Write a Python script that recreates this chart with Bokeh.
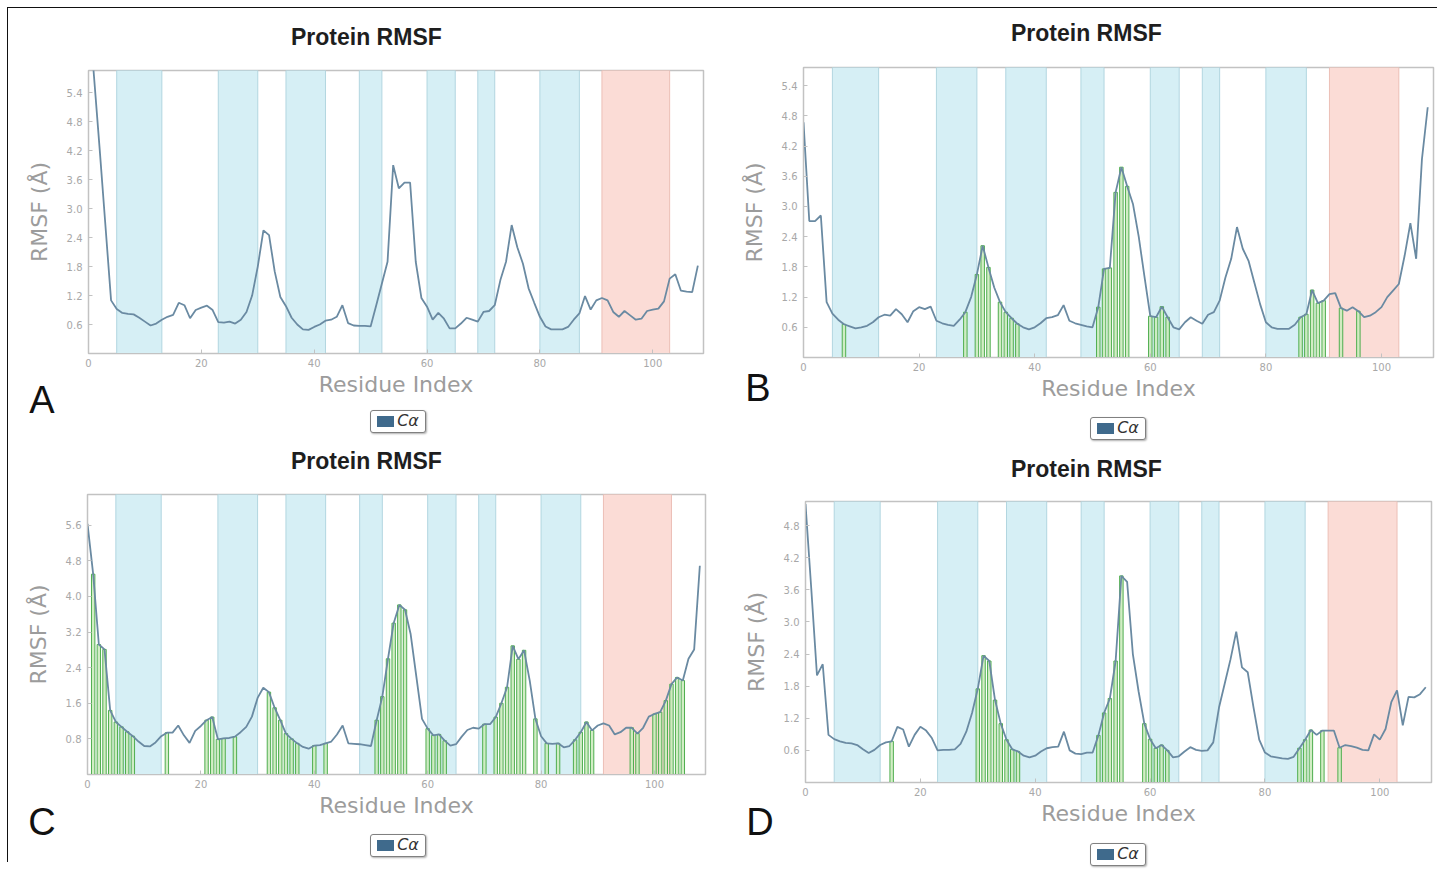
from bokeh.plotting import figure
from bokeh.models import ColumnDataSource, FixedTicker, Range1d, PrintfTickFormatter, Div
from bokeh.layouts import column, row
from bokeh.embed import file_html
from bokeh.resources import INLINE

# ---------------- data ----------------
residues = list(range(109))

rmsf_A = [7.2, 5.7, 4.2, 2.65, 1.1, 0.92, 0.84, 0.82, 0.81, 0.74,
          0.66, 0.58, 0.62, 0.7, 0.76, 0.8, 1.05, 1.0, 0.73, 0.9,
          0.95, 0.99, 0.9, 0.65, 0.64, 0.66, 0.62, 0.7, 0.86, 1.2,
          1.8, 2.55, 2.45, 1.7, 1.17, 0.98, 0.74, 0.6, 0.5, 0.49,
          0.55, 0.6, 0.68, 0.7, 0.76, 1.0, 0.63, 0.58, 0.57, 0.57,
          0.56, 1.0, 1.45, 1.9, 3.9, 3.42, 3.54, 3.54, 1.9, 1.15,
          0.97, 0.7, 0.84, 0.72, 0.52, 0.52, 0.62, 0.74, 0.7, 0.66,
          0.86, 0.88, 1.0, 1.52, 1.9, 2.66, 2.2, 1.86, 1.35, 1.05,
          0.76, 0.56, 0.5, 0.5, 0.5, 0.55, 0.7, 0.83, 1.19, 0.91,
          1.1, 1.15, 1.1, 0.86, 0.76, 0.88, 0.79, 0.7, 0.72, 0.88,
          0.91, 0.93, 1.08, 1.55, 1.64, 1.3, 1.28, 1.27, 1.82]

rmsf_B = [4.67, 2.71, 2.71, 2.82, 1.1, 0.87, 0.75, 0.66, 0.62, 0.58,
          0.6, 0.63, 0.7, 0.8, 0.85, 0.83, 0.96, 0.86, 0.7, 0.92,
          1.0, 0.96, 1.01, 0.73, 0.68, 0.65, 0.63, 0.75, 0.9, 1.2,
          1.65, 2.22, 1.79, 1.39, 1.1, 0.9, 0.78, 0.67, 0.6, 0.56,
          0.6, 0.68, 0.78, 0.8, 0.84, 1.04, 0.73, 0.68, 0.65, 0.62,
          0.6, 1.0, 1.76, 1.78, 3.28, 3.78, 3.4, 3.05, 2.4, 1.6,
          0.82, 0.8, 1.01, 0.8, 0.6, 0.56, 0.7, 0.8, 0.73, 0.67,
          0.85, 0.9, 1.13, 1.59, 1.96, 2.59, 2.16, 1.92, 1.49, 1.06,
          0.7, 0.6, 0.57, 0.57, 0.57, 0.65, 0.8, 0.86, 1.34, 1.08,
          1.13, 1.26, 1.28, 0.98, 0.93, 1.0, 0.92, 0.8, 0.83, 0.9,
          1.0, 1.2, 1.33, 1.46, 2.02, 2.67, 1.96, 3.94, 4.97]

rmsf_C = [5.63, 4.5, 2.92, 2.81, 1.44, 1.18, 1.07, 0.96, 0.86, 0.74,
          0.64, 0.63, 0.72, 0.86, 0.94, 0.94, 1.1, 0.88, 0.71, 0.98,
          1.09, 1.22, 1.29, 0.79, 0.81, 0.82, 0.85, 0.95, 1.07, 1.3,
          1.72, 1.95, 1.85, 1.5, 1.22, 0.92, 0.8, 0.7, 0.62, 0.58,
          0.65, 0.66, 0.7, 0.74, 0.9, 1.1, 0.7, 0.69, 0.68, 0.66,
          0.64, 1.22, 1.75, 2.6, 3.4, 3.81, 3.7, 3.15, 2.2, 1.25,
          1.03, 0.88, 0.9, 0.76, 0.65, 0.68, 0.85, 1.0, 1.05, 1.03,
          1.13, 1.13, 1.29, 1.6, 1.96, 2.89, 2.59, 2.79, 2.11, 1.25,
          0.86, 0.7, 0.69, 0.7, 0.61, 0.64, 0.78, 0.95, 1.18, 0.99,
          1.1, 1.15, 1.1, 0.9, 0.95, 1.05, 1.05, 0.92, 1.05, 1.3,
          1.36, 1.4, 1.66, 2.03, 2.18, 2.11, 2.6, 2.81, 4.69]

rmsf_D = [5.2, 3.63, 2.0, 2.21, 0.89, 0.81, 0.77, 0.74, 0.73, 0.7,
          0.62, 0.55, 0.61, 0.7, 0.75, 0.77, 1.04, 0.99, 0.67, 0.89,
          1.04, 0.97, 0.83, 0.6, 0.61, 0.61, 0.62, 0.72, 0.95, 1.3,
          1.75, 2.37, 2.27, 1.54, 1.1, 0.8, 0.62, 0.58, 0.5, 0.47,
          0.5, 0.58, 0.64, 0.66, 0.67, 0.95, 0.6, 0.54, 0.53, 0.56,
          0.56, 0.88, 1.3, 1.57, 2.27, 3.86, 3.75, 2.4, 1.7, 1.1,
          0.81, 0.64, 0.7, 0.6, 0.47, 0.49, 0.58, 0.66, 0.61, 0.59,
          0.6, 0.75, 1.4, 1.85, 2.3, 2.82, 2.15, 2.06, 1.41, 0.8,
          0.56, 0.49, 0.47, 0.45, 0.44, 0.48, 0.64, 0.8, 0.98, 0.89,
          0.97, 0.97, 0.97, 0.65, 0.7, 0.68, 0.65, 0.61, 0.6, 0.9,
          0.8, 1.0, 1.5, 1.72, 1.07, 1.6, 1.59, 1.65, 1.78]

# ligand-contact residues (green bars)
contacts_A = []
contacts_B = [7, 28, 30, 31, 32, 34, 35, 36, 37, 51, 52, 53, 54, 55, 56,
              60, 61, 62, 63, 86, 87, 88, 89, 90, 93, 96]
contacts_C = [1, 2, 3, 4, 5, 6, 7, 8, 14, 21, 22, 23, 24, 26, 32, 33, 34, 35, 36, 37,
              40, 42, 51, 52, 53, 54, 55, 56, 60, 61, 62, 63, 70, 72, 73, 74, 75, 76, 77,
              79, 81, 83, 86, 87, 88, 89, 96, 97, 100, 101, 102, 103, 104, 105]
contacts_D = [15, 30, 31, 32, 33, 34, 35, 36, 37, 51, 52, 53, 54, 55,
              59, 60, 61, 62, 63, 86, 87, 88, 90, 93]

# secondary-structure regions
blue_start = [5, 23, 35, 48, 60, 69, 80]
blue_end = [13, 30, 42, 52, 65, 72, 87]
red_start = [91]
red_end = [103]

x_ticks = [0, 20, 40, 60, 80, 100]
y_ticks_A = [0.6, 1.2, 1.8, 2.4, 3.0, 3.6, 4.2, 4.8, 5.4]
y_ticks_B = [0.6, 1.2, 1.8, 2.4, 3.0, 3.6, 4.2, 4.8, 5.4]
y_ticks_C = [0.8, 1.6, 2.4, 3.2, 4.0, 4.8, 5.6]
y_ticks_D = [0.6, 1.2, 1.8, 2.4, 3.0, 3.6, 4.2, 4.8]

x_max = 109
y_max = {"A": 5.86, "B": 5.76, "C": 6.29, "D": 5.25}

title_text = "Protein RMSF"
x_label = "Residue Index"
y_label = "RMSF (Å)"
legend_label = "Cα"

# ---------------- styling ----------------
LINE = "#6a8aa2"
SWATCH = "#3f6a8c"
BLUE_FILL, BLUE_EDGE = "#d6eff5", "#b2d6e0"
RED_FILL, RED_EDGE = "#fbdcd6", "#ecbfb6"
GREEN_FILL, GREEN_EDGE = "#cdebbf", "#4fae4f"
FRAME = "#c2c2c2"
AXTXT = "#9c9c9c"
TICKTXT = "#a8a8a8"
BOTTOM = 48   # room for tick labels + axis label under the frame
TOPPAD = 10   # small top border inside each figure


def make_panel(letter, rmsf, contacts, yticks, W, bl, br, fh):
    ymax = y_max[letter]
    p = figure(width=W, height=TOPPAD + fh + BOTTOM, x_range=Range1d(0, x_max), y_range=Range1d(0, ymax),
               output_backend="svg", toolbar_location=None,
               min_border_left=bl, min_border_right=br, min_border_top=TOPPAD,
               min_border_bottom=BOTTOM)
    p.grid.visible = False
    p.outline_line_color = FRAME
    p.outline_line_width = 1.5
    p.border_fill_alpha = 0

    p.quad(left=blue_start, right=blue_end, bottom=[0] * len(blue_start), top=[ymax] * len(blue_start),
           fill_color=BLUE_FILL, line_color=BLUE_EDGE, line_width=1)
    p.quad(left=red_start, right=red_end, bottom=[0] * len(red_start), top=[ymax] * len(red_start),
           fill_color=RED_FILL, line_color=RED_EDGE, line_width=1)
    if contacts:
        src = ColumnDataSource(dict(x=contacts, top=[rmsf[i] for i in contacts]))
        p.vbar(x="x", top="top", bottom=0, width=0.6, source=src,
               fill_color=GREEN_FILL, fill_alpha=0.9, line_color=GREEN_EDGE, line_width=1)
    p.line(residues, rmsf, line_color=LINE, line_width=1.8)

    p.xaxis.ticker = FixedTicker(ticks=x_ticks)
    p.yaxis.ticker = FixedTicker(ticks=yticks)
    p.yaxis.formatter = PrintfTickFormatter(format="%.1f")
    p.xaxis.axis_label = x_label
    p.yaxis.axis_label = y_label
    p.axis.axis_line_color = FRAME
    p.axis.major_tick_line_color = FRAME
    p.axis.major_label_text_font = "DejaVu Sans"
    p.axis.major_label_text_font_size = "10px"
    p.axis.major_label_text_color = TICKTXT
    p.axis.axis_label_text_font = "DejaVu Sans"
    p.axis.axis_label_text_font_size = "22px"
    p.axis.axis_label_text_font_style = "normal"
    p.axis.axis_label_text_color = AXTXT
    p.axis.minor_tick_line_color = None
    p.axis.major_tick_in = 4
    p.axis.major_tick_out = 0
    p.xaxis.major_label_standoff = 5
    p.xaxis.axis_label_standoff = 2
    p.yaxis.major_label_standoff = 6
    p.yaxis.axis_label_standoff = 12
    return p


def title_div(W, height, pad_left, pad_top):
    return Div(text=title_text, width=W, height=height, margin=0,
               styles={"font-family": "Liberation Sans", "font-weight": "bold", "font-size": "23px",
                       "color": "#1e1e1e", "line-height": "1", "white-space": "nowrap",
                       "padding-left": f"{pad_left}px", "padding-top": f"{pad_top}px",
                       "box-sizing": "border-box"})


def footer(letter, letter_w, total_w, top_margin, height, leg_pad_left, leg_pad_top):
    ldiv = Div(text=letter, width=letter_w, height=height, margin=(top_margin, 0, 0, 0),
               styles={"font-family": "Liberation Sans", "font-size": "38px", "color": "#111111",
                       "text-align": "center", "line-height": "1"})
    html = ('<div style="display:flex;align-items:center;justify-content:center;box-sizing:border-box;'
            'width:56px;height:23px;border:1.5px solid #808080;border-radius:3px;'
            'box-shadow:1px 1px 2px #b0b0b0;background:#ffffff;'
            'font-family:\'DejaVu Sans\';font-style:italic;font-size:16px;color:#333333;">'
            '<span style="display:inline-block;width:17px;height:11px;background:' + SWATCH +
            ';margin-right:3px;"></span>' + legend_label + '</div>')
    gdiv = Div(text=html, width=total_w - letter_w, height=height, margin=(top_margin, 0, 0, 0),
               styles={"padding-left": f"{leg_pad_left}px", "padding-top": f"{leg_pad_top}px",
                       "box-sizing": "border-box"})
    return row(ldiv, gdiv)


# panels: (title block height = top border - TOPPAD)
tA = title_div(722, 62 - TOPPAD, 283, 18)
tB = title_div(707, 59 - TOPPAD, 281, 14)
tC = title_div(722, 47 - TOPPAD, 283, 3)
tD = title_div(707, 54 - TOPPAD, 281, 11)

pA = make_panel("A", rmsf_A, contacts_A, y_ticks_A, 722, 80, 27, 283)
pB = make_panel("B", rmsf_B, contacts_B, y_ticks_B, 707, 73, 4, 290)
pC = make_panel("C", rmsf_C, contacts_C, y_ticks_C, 722, 79, 25, 280)
pD = make_panel("D", rmsf_D, contacts_D, y_ticks_D, 707, 75, 6, 281)

fA = footer("A", 68, 722, -20, 66, 294, 29)
fB = footer("B", 56, 707, -36, 78, 304, 48)
fC = footer("C", 68, 722, -19, 59, 294, 31)
fD = footer("D", 60, 707, -27, 59, 300, 40)

layout = column(row(column(tA, pA, fA), column(tB, pB, fB)),
                row(column(tC, pC, fC), column(tD, pD, fD)),
                margin=(7, 0, 0, 7),
                styles={"border-top": "1px solid #111", "border-left": "1px solid #111"})

open("out.html", "w").write(file_html(layout, INLINE))
